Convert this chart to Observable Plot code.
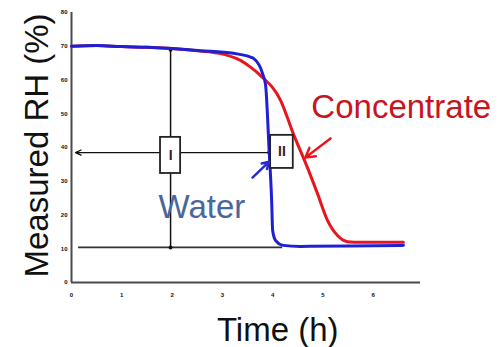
<!DOCTYPE html>
<html>
<head>
<meta charset="utf-8">
<script src="https://cdn.jsdelivr.net/npm/d3@7"></script>
<script src="https://cdn.jsdelivr.net/npm/@observablehq/plot@0.6"></script>
<style>
  html, body { margin: 0; padding: 0; background: #fff; }
  #chart { width: 499px; height: 347px; }
  svg { font-family: "Liberation Sans", Arial, sans-serif; }
</style>
</head>
<body>
<div id="chart"></div>
<script>
// Tick values (labels are illegible blobs in the reference)
const xTicks = [0, 1, 2, 3, 4, 5, 6];
const yTicks = [0, 10, 20, 30, 40, 50, 60, 70, 80];

// Water (blue) series
const waterX = [0, 0.5, 1.0, 1.5, 1.91, 2.56, 3.22, 3.56, 3.62, 3.80, 3.86, 3.93, 3.98, 4.0, 4.06, 4.21, 4.55, 5.5, 6.6];
const waterY = [70.0, 70.2, 69.9, 69.7, 69.4, 68.7, 67.9, 66.8, 66.4, 61.9, 58.4, 39.1, 24.3, 15.4, 12.4, 11.0, 10.7, 10.8, 11.0];

// Concentrate (red) series
const concX = [0, 0.5, 1.0, 1.5, 1.91, 2.56, 2.90, 3.36, 3.56, 3.76, 4.16, 4.41, 4.69, 4.89, 5.09, 5.29, 5.49, 5.75, 6.6];
const concY = [70.0, 70.2, 69.9, 69.7, 69.4, 68.6, 68.0, 65.8, 63.8, 61.3, 53.9, 44.1, 34.1, 26.4, 18.4, 13.9, 12.1, 11.9, 11.9];

// Annotation values
const markerTime = 1.97;        // vertical guide (time)
const upperRH = 69.0;
const lowerRH = 10.4;
const arrowRH = 38.5;
const arrowStart = 3.9;
const arrowEnd = 0.08;
const lowerLineEnd = 4.2;
const boxes = [
  {label: "I", x1: 1.77, x2: 2.17, y1: 32.3, y2: 43.0},
  {label: "II", x1: 3.96, x2: 4.41, y1: 33.8, y2: 43.6}
];

const water = waterX.map((x, i) => ({x, y: waterY[i]}));
const conc = concX.map((x, i) => ({x, y: concY[i]}));

const chart = Plot.plot({
  width: 499,
  height: 347,
  marginLeft: 71,
  marginRight: 79,
  marginTop: 12,
  marginBottom: 65,
  style: {fontFamily: "Liberation Sans, Arial, sans-serif", background: "#fff"},
  x: {domain: [0, 6.94]},
  y: {domain: [0, 80]},
  marks: [
    // tick labels (tiny blobs)
    Plot.axisY(yTicks, {tickSize: 0, tickPadding: 4, fontSize: 6, fontWeight: "bold", label: null, fill: "#111"}),
    Plot.axisX(xTicks, {tickSize: 0, tickPadding: 10, fontSize: 6, fontWeight: "bold", label: null, fill: "#111"}),
    // axis lines
    Plot.ruleX([0], {y1: 0, y2: 80, stroke: "#4a4a4a", strokeWidth: 2}),
    Plot.ruleY([0], {x1: 0, x2: 6.94, stroke: "#4a4a4a", strokeWidth: 2}),
    // guides
    Plot.ruleX([markerTime], {y1: lowerRH, y2: upperRH, stroke: "#111", strokeWidth: 1.5}),
    Plot.ruleY([lowerRH], {x1: 0.14, x2: lowerLineEnd, stroke: "#333", strokeWidth: 1.8}),
    Plot.arrow([{x1: arrowStart, x2: arrowEnd, y: arrowRH}], {x1: "x1", x2: "x2", y1: "y", y2: "y", stroke: "#111", strokeWidth: 1.3, headLength: 7, headAngle: 50}),
    Plot.dot([{x: markerTime, y: upperRH}, {x: markerTime, y: lowerRH}, {x: 3.93, y: arrowRH}], {x: "x", y: "y", r: 2, fill: "#111"}),
    // curves
    Plot.line(conc, {x: "x", y: "y", stroke: "#e8161c", strokeWidth: 3, curve: "monotone-x"}),
    Plot.line(water, {x: "x", y: "y", stroke: "#1f1fd6", strokeWidth: 3, curve: "monotone-x"}),
    // boxes
    Plot.rect(boxes, {x1: "x1", x2: "x2", y1: "y1", y2: "y2", fill: "#fff", stroke: "#222", strokeWidth: 1.8}),
    Plot.text(boxes, {x: d => (d.x1 + d.x2) / 2, y: d => (d.y1 + d.y2) / 2, text: "label", fontSize: 14, fontWeight: "bold", fill: "#3a2020"}),
    // pointer arrows
    Plot.arrow([{x1: 5.15, y1: 42.7, x2: 4.65, y2: 37.0}], {x1: "x1", y1: "y1", x2: "x2", y2: "y2", stroke: "#e8161c", strokeWidth: 2.5, headLength: 7}),
    Plot.arrow([{x1: 3.6, y1: 31.1, x2: 3.93, y2: 35.8}], {x1: "x1", y1: "y1", x2: "x2", y2: "y2", stroke: "#2a2ad0", strokeWidth: 2.5, headLength: 7}),
    // series labels
    Plot.text(["Concentrate"], {x: 4.77, y: 48.6, text: d => d, textAnchor: "start", lineAnchor: "bottom", fontSize: 33, fill: "#c8141e"}),
    Plot.text(["Water"], {x: 1.73, y: 19.0, text: d => d, textAnchor: "start", lineAnchor: "bottom", fontSize: 33, fill: "#4a679a"}),
    // axis titles
    Plot.text(["Time (h)"], {x: 4.1, y: -17.2, text: d => d, textAnchor: "middle", lineAnchor: "bottom", fontSize: 33, fill: "#111"}),
    Plot.text(["Measured RH (%)"], {x: -0.477, y: 40.6, text: d => d, rotate: -90, textAnchor: "middle", lineAnchor: "bottom", fontSize: 33, fill: "#111"})
  ]
});
document.getElementById("chart").appendChild(chart);
</script>
</body>
</html>
